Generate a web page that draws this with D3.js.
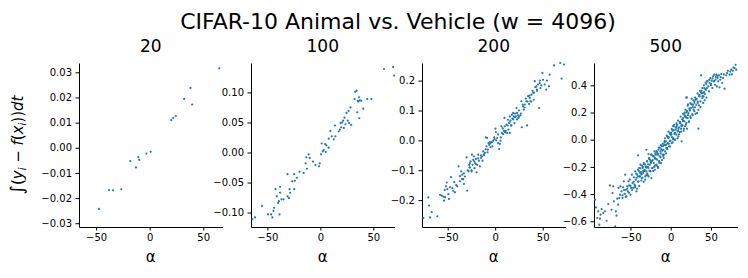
<!DOCTYPE html>
<html>
<head>
<meta charset="utf-8">
<script src="https://cdn.jsdelivr.net/npm/d3@7"></script>
<style>
  body { margin: 0; background: #fff; }
  svg text { font-family: 'DejaVu Sans', sans-serif; fill: #000; }
</style>
</head>
<body>
<svg id="chart" width="748" height="278"></svg>
<script>
let chartTitle = 'CIFAR-10 Animal vs. Vehicle (w = 4096)';
let sizes = ['20', '100', '200', '500'];
let xTicks = [-50, 0, 50];

let yTicks20 = [-0.03, -0.02, -0.01, 0, 0.01, 0.02, 0.03];
let yTicks100 = [-0.10, -0.05, 0, 0.05, 0.10];
let yTicks200 = [-0.2, -0.1, 0, 0.1, 0.2];
let yTicks500 = [-0.6, -0.4, -0.2, 0, 0.2, 0.4];

// alpha, integral of (y_i - f(x_i)) dt
let points20 = [
  [-47.4, -0.0243], [-38.1, -0.0168], [-34.3, -0.0169], [-26.5, -0.0165], [-18.1, -0.0053],
  [-12.8, -0.0078], [-10.6, -0.0037], [-9.7, -0.0048], [-3.1, -0.0023], [0.9, -0.0016],
  [20.1, 0.0110], [21.9, 0.0118], [24.4, 0.0126], [32.2, 0.0194], [38.1, 0.0238],
  [39.7, 0.0172], [65.0, 0.0316]
];

let points100 = [
  [-64.2, -0.111], [-61.7, -0.108], [-55.1, -0.089], [-49.4, -0.103], [-46.5, -0.103],
  [-45.3, -0.108], [-44.3, -0.097], [-43.7, -0.092], [-42.4, -0.061], [-41.1, -0.073],
  [-39.9, -0.084], [-39.2, -0.081], [-38.6, -0.103], [-38.0, -0.057], [-38.0, -0.067],
  [-36.7, -0.078], [-34.8, -0.078], [-31.0, -0.036], [-31.0, -0.073], [-29.7, -0.076],
  [-29.1, -0.061], [-28.5, -0.067], [-26.6, -0.048], [-24.7, -0.036], [-24.7, -0.061],
  [-24.1, -0.047], [-22.2, -0.042], [-19.6, -0.032], [-15.8, -0.034], [-13.9, -0.018],
  [-13.3, -0.008], [-12.7, -0.027], [-11.1, -0.003], [-10.1, -0.009], [-7.0, -0.015],
  [-4.7, -0.021], [-1.3, -0.023], [-0.6, -0.018], [0.6, -0.003], [1.3, 0.015],
  [2.2, 0.002], [3.2, 0.004], [4.4, 0.014], [5.1, 0.001], [5.7, 0.012],
  [7.9, 0.008], [7.9, 0.023], [9.5, 0.036], [10.8, 0.027], [12.7, 0.022],
  [13.9, 0.045], [14.2, 0.027], [17.4, 0.035], [18.4, 0.038], [19.0, 0.049],
  [19.6, 0.042], [20.6, 0.050], [21.5, 0.053], [22.2, 0.041], [22.8, 0.058],
  [23.7, 0.047], [24.7, 0.066], [25.9, 0.053], [26.6, 0.069], [27.2, 0.049],
  [28.5, 0.075], [29.1, 0.046], [32.3, 0.089], [32.9, 0.101], [34.2, 0.103],
  [34.8, 0.067], [35.4, 0.086], [36.1, 0.085], [36.4, 0.092], [36.7, 0.057],
  [37.3, 0.087], [38.6, 0.086], [40.5, 0.073], [44.3, 0.089], [48.1, 0.089],
  [60.1, 0.139], [68.7, 0.142], [69.6, 0.128]
];

let points200 = [
  [-75.5, -0.260], [-70.3, -0.191], [-69.6, -0.218], [-68.5, -0.258], [-66.8, -0.240],
  [-60.8, -0.254], [-58.0, -0.182], [-56.3, -0.185], [-54.5, -0.188], [-53.8, -0.202],
  [-53.1, -0.166], [-52.8, -0.190], [-51.7, -0.154], [-51.0, -0.141], [-50.3, -0.163],
  [-49.3, -0.180], [-48.6, -0.196], [-47.6, -0.157], [-46.5, -0.123], [-44.1, -0.169],
  [-42.3, -0.174], [-39.9, -0.154], [-38.5, -0.087], [-37.1, -0.137], [-35.7, -0.104],
  [-34.6, -0.115], [-33.6, -0.130], [-32.9, -0.146], [-31.8, -0.121], [-30.1, -0.057],
  [-29.4, -0.168], [-28.0, -0.104], [-27.3, -0.082], [-26.6, -0.076], [-26.6, -0.091],
  [-25.9, -0.070], [-24.8, -0.104], [-24.5, -0.048], [-23.8, -0.082], [-23.1, -0.065],
  [-22.4, -0.054], [-21.7, -0.093], [-21.0, -0.076], [-20.3, -0.062], [-19.6, -0.107],
  [-18.9, -0.082], [-17.8, -0.048], [-17.1, -0.068], [-16.1, -0.087], [-15.0, -0.059],
  [-14.0, -0.054], [-13.3, -0.068], [-12.6, -0.037], [-11.9, -0.048], [-10.8, -0.042],
  [-9.8, 0.010], [-9.1, -0.020], [-8.4, 0.008], [-7.7, -0.031], [-7.0, -0.009],
  [-6.3, -0.015], [-5.6, -0.006], [-4.9, -0.023], [-3.5, -0.006], [-2.1, -0.001],
  [-0.7, 0.004], [0.3, 0.039], [0.7, 0.028], [2.1, 0.008], [3.1, -0.009],
  [4.2, -0.029], [4.9, -0.012], [5.6, -0.001], [6.6, 0.047], [7.0, 0.025],
  [8.4, 0.021], [9.1, 0.032], [9.8, 0.075], [10.1, 0.047], [10.5, 0.027],
  [11.2, 0.032], [11.9, 0.053], [12.6, 0.025], [13.3, 0.069], [14.0, 0.036],
  [14.7, 0.058], [15.4, 0.080], [15.4, 0.025], [16.1, 0.066], [16.8, 0.050],
  [17.5, 0.086], [18.2, 0.073], [18.9, 0.092], [19.6, 0.080], [20.3, 0.058],
  [21.0, 0.077], [21.7, 0.080], [22.4, 0.108], [23.1, 0.092], [23.8, 0.084],
  [24.5, 0.075], [25.2, 0.080], [26.6, 0.084], [27.6, 0.131], [28.0, 0.044],
  [29.4, 0.114], [30.1, 0.103], [31.1, 0.120], [32.2, 0.140], [32.9, 0.131],
  [33.6, 0.050], [34.6, 0.148], [35.7, 0.122], [36.4, 0.142], [37.1, 0.131],
  [38.1, 0.153], [39.2, 0.166], [39.9, 0.159], [40.6, 0.136], [41.6, 0.198],
  [42.3, 0.178], [43.4, 0.181], [44.1, 0.166], [45.1, 0.187], [46.2, 0.108],
  [46.9, 0.192], [47.6, 0.175], [48.6, 0.184], [49.7, 0.226], [50.3, 0.203],
  [52.1, 0.187], [53.8, 0.170], [54.5, 0.200], [56.6, 0.181], [57.3, 0.220],
  [61.9, 0.251], [68.5, 0.259], [69.9, 0.207], [72.4, 0.254],
  [-45, -0.16], [-43, -0.14], [-41, -0.15], [-37, -0.12], [-35, -0.13],
  [-33, -0.11], [-29, -0.10], [-27, -0.09], [-25, -0.10], [-22, -0.07],
  [-20, -0.08], [-18, -0.06], [-15, -0.05], [-12, -0.05], [-10, -0.03],
  [-8, -0.04], [-5, -0.01], [-3, -0.02], [-1, 0.01], [1, 0.00],
  [3, 0.02], [6, 0.01], [8, 0.04], [10, 0.03], [13, 0.05],
  [15, 0.06], [17, 0.05], [19, 0.07], [21, 0.09], [23, 0.07],
  [25, 0.10], [27, 0.09], [29, 0.12], [31, 0.11], [34, 0.13],
  [36, 0.15], [38, 0.13], [41, 0.16], [44, 0.17], [47, 0.20]
];

let points500 = [
  [-94.2, -0.441], [-93.0, -0.498], [-91.3, -0.576], [-90.1, -0.527], [-88.8, -0.625],
  [-88.0, -0.581], [-87.2, -0.551], [-86.0, -0.510], [-83.9, -0.539], [-81.8, -0.527],
  [-79.8, -0.596], [-77.7, -0.473], [-75.6, -0.336], [-73.6, -0.515], [-72.3, -0.392],
  [-71.5, -0.343], [-70.7, -0.453], [-69.0, -0.637], [-68.2, -0.527], [-67.4, -0.559],
  [-66.5, -0.434], [-65.3, -0.478], [-64.9, -0.355], [-64.0, -0.429], [-63.2, -0.404],
  [-62.4, -0.343], [-61.2, -0.380], [-59.9, -0.429], [-59.1, -0.350], [-58.3, -0.306],
  [-57.4, -0.399], [-56.6, -0.257], [-55.8, -0.368], [-55.0, -0.417], [-54.1, -0.343],
  [-53.3, -0.380], [-52.5, -0.306], [-51.7, -0.336], [-50.8, -0.294], [-50.0, -0.404],
  [-49.2, -0.355], [-48.3, -0.257], [-47.5, -0.319], [-46.7, -0.355], [-45.9, -0.277],
  [-45.0, -0.331], [-44.2, -0.233], [-43.4, -0.294], [-42.6, -0.380], [-41.7, -0.257],
  [-40.9, -0.221], [-40.5, -0.115], [-40.1, -0.306], [-39.3, -0.208], [-38.4, -0.270],
  [-37.6, -0.184], [-36.8, -0.238], [-36.0, -0.282], [-35.1, -0.208], [-34.3, -0.245],
  [-33.5, -0.172], [-32.6, -0.221], [-31.8, -0.294], [-31.0, -0.196], [-30.2, -0.233],
  [-30.2, -0.074], [-29.3, -0.159], [-28.5, -0.262], [-27.7, -0.208], [-27.7, -0.105],
  [-26.9, -0.135], [-26.0, -0.184], [-25.2, -0.233], [-24.4, -0.110], [-24.0, -0.282],
  [-23.6, -0.159], [-22.7, -0.208], [-21.9, -0.123], [-21.1, -0.172], [-20.2, -0.086],
  [-19.8, -0.221], [-19.4, -0.140], [-18.6, -0.110], [-17.8, -0.184], [-16.9, -0.147],
  [-16.1, -0.110], [-15.7, -0.208], [-15.3, -0.074], [-14.5, -0.159], [-13.6, -0.123],
  [-12.8, -0.086], [-12.0, -0.172], [-11.2, -0.049], [-10.3, -0.110], [-9.5, -0.074],
  [-8.7, -0.135], [-7.9, -0.037], [-7.0, -0.086], [-6.2, -0.012], [-5.4, -0.061],
  [-4.5, 0.025], [-3.7, -0.025], [-2.9, 0.012], [-2.1, -0.049], [-1.2, 0.049],
  [-0.4, -0.007], [0.4, 0.037], [1.2, -0.025], [2.1, 0.066], [2.9, 0.012],
  [3.7, 0.098], [4.5, 0.042], [5.4, 0.000], [6.2, 0.074], [7.0, 0.037],
  [7.9, 0.110], [8.7, 0.061], [9.5, 0.025], [10.3, 0.091], [11.2, 0.056],
  [12.0, 0.123], [12.8, 0.081], [13.6, -0.012], [14.5, 0.105], [15.3, 0.159],
  [16.1, 0.066], [16.9, 0.135], [17.8, 0.098], [18.6, 0.172], [19.4, 0.123],
  [19.8, 0.311], [20.2, 0.081], [21.1, 0.159], [21.9, 0.196], [22.7, 0.135],
  [23.6, 0.213], [24.4, 0.172], [25.2, 0.233], [26.0, 0.301], [26.9, 0.189],
  [27.7, 0.257], [28.5, 0.221], [29.3, 0.282], [30.2, 0.238], [31.0, 0.294],
  [31.8, 0.257], [32.6, 0.196], [33.5, 0.270], [34.3, 0.081], [35.1, 0.252],
  [36.0, 0.319], [36.8, 0.282], [37.6, 0.473], [38.4, 0.360], [39.3, 0.306],
  [40.1, 0.343], [40.9, 0.319], [41.7, 0.380], [42.6, 0.336], [43.4, 0.368],
  [44.2, 0.409], [45.0, 0.380], [45.9, 0.429], [46.7, 0.392], [47.5, 0.355],
  [48.3, 0.417], [49.2, 0.453], [50.0, 0.400], [50.8, 0.434], [51.7, 0.380],
  [52.5, 0.466], [53.3, 0.429], [54.1, 0.478], [55.0, 0.404], [55.8, 0.441],
  [56.6, 0.478], [57.4, 0.392], [58.3, 0.453], [59.1, 0.429], [59.9, 0.473],
  [60.7, 0.385], [61.6, 0.441], [62.8, 0.483], [64.0, 0.417], [64.9, 0.453],
  [66.9, 0.375], [69.0, 0.473], [71.1, 0.507], [73.1, 0.478], [75.2, 0.515],
  [77.3, 0.507], [79.3, 0.527], [80.6, 0.551], [81.4, 0.515],
  [19.4, 0.309], [21.5, 0.260], [17.3, 0.199], [19.4, 0.162], [15.3, 0.137],
  [11.2, 0.125], [13.2, 0.100], [7.0, 0.088], [2.9, 0.100], [9.1, 0.064],
  [5.0, 0.051], [0.8, 0.039], [2.9, 0.002], [-1.2, -0.010], [-3.3, 0.015],
  [-5.4, -0.034], [-7.4, -0.010], [-9.5, -0.047], [-11.6, -0.071], [-13.6, -0.059],
  [-15.7, -0.108], [-17.8, -0.083], [-19.8, -0.132], [-21.9, -0.120], [-24.0, -0.157],
  [-26.0, -0.145], [-28.1, -0.181], [-30.2, -0.206], [-32.2, -0.181], [-34.3, -0.230],
  [-36.4, -0.255], [-38.4, -0.243],
  [-44.3, -0.34], [-42.8, -0.25], [-42.1, -0.36], [-40.6, -0.27], [-39.7, -0.23],
  [-39.2, -0.34], [-37.9, -0.21], [-36.6, -0.30], [-35.8, -0.19], [-35.3, -0.28],
  [-33.7, -0.31], [-33.1, -0.18], [-31.6, -0.27], [-30.8, -0.20], [-29.6, -0.16],
  [-29.2, -0.25], [-27.6, -0.27], [-27.2, -0.14], [-25.7, -0.23], [-25.1, -0.16],
  [-23.8, -0.11], [-23.3, -0.21], [-21.8, -0.23], [-21.2, -0.12], [-19.7, -0.19],
  [-19.1, -0.10], [-17.6, -0.19], [-17.2, -0.09], [-15.9, -0.20], [-14.8, -0.06],
  [-14.2, -0.17], [-12.7, -0.13], [-12.3, -0.04], [-10.9, -0.15], [-9.8, -0.03],
  [-9.3, -0.12], [-7.7, -0.02], [-7.2, 0.01], [-5.8, -0.10], [-4.9, 0.03],
  [-4.2, -0.07], [-2.8, 0.06], [-2.3, -0.03], [-0.8, -0.05], [0.3, 0.05],
  [1.2, 0.08], [2.3, -0.02], [3.2, 0.07], [4.3, 0.11], [4.8, 0.00],
  [6.3, 0.09], [7.1, 0.12], [8.4, 0.01], [9.2, 0.14], [10.3, 0.04],
  [11.2, 0.13], [12.3, 0.17], [12.8, 0.06], [14.2, 0.15], [15.3, 0.19],
  [16.4, 0.08], [17.2, 0.18], [18.3, 0.22], [18.8, 0.11], [20.2, 0.21],
  [21.1, 0.25], [22.4, 0.13], [23.2, 0.23], [24.3, 0.27], [24.8, 0.16],
  [26.2, 0.26], [27.3, 0.18], [28.1, 0.29], [29.4, 0.21], [30.3, 0.31],
  [30.8, 0.19], [32.2, 0.30], [33.3, 0.34], [34.4, 0.22], [35.2, 0.32],
  [36.3, 0.36], [36.8, 0.24], [38.2, 0.34], [39.3, 0.38], [40.4, 0.27],
  [41.2, 0.40], [42.3, 0.29], [43.2, 0.42], [44.4, 0.31], [45.3, 0.43],
  [-44.5, -0.35], [-42.5, -0.28], [-40.5, -0.31], [-38.5, -0.27], [-36.5, -0.25],
  [-34.5, -0.20], [-32.5, -0.23], [-30.5, -0.26], [-28.5, -0.20], [-26.5, -0.23],
  [-24.5, -0.17], [-22.5, -0.15], [-20.5, -0.20], [-18.5, -0.14], [-16.5, -0.10],
  [-14.5, -0.16], [-12.5, -0.10], [-10.5, -0.08], [-8.5, -0.11], [-6.5, -0.04],
  [-4.5, -0.06], [-2.5, 0.02], [-0.5, 0.04], [1.5, 0.02], [3.5, 0.07],
  [5.5, 0.05], [7.5, 0.10], [9.5, 0.08], [11.5, 0.13], [13.5, 0.11],
  [15.5, 0.14], [17.5, 0.17], [19.5, 0.20], [21.5, 0.18], [23.5, 0.22],
  [25.5, 0.26], [27.5, 0.24], [29.5, 0.27], [31.5, 0.30], [33.5, 0.28],
  [35.5, 0.33], [37.5, 0.35], [39.5, 0.32], [41.5, 0.35], [43.5, 0.37],
  [-60, -0.41], [-58, -0.37], [-56, -0.42], [-54, -0.36], [-52, -0.39],
  [-50, -0.34], [-48, -0.37], [-46, -0.31], [48, 0.44], [50, 0.41],
  [52, 0.45], [54, 0.43], [56, 0.46], [58, 0.47], [62, 0.46],
  [66, 0.48], [70, 0.49], [74, 0.50], [76, 0.48], [78, 0.53]
];

let panels = [
  { title: sizes[0], points: points20, yTicks: yTicks20, fmt: '.2f', xDomain: [-66, 68], yDomain: [-0.0315, 0.0337] },
  { title: sizes[1], points: points100, yTicks: yTicks100, fmt: '.2f', xDomain: [-65.5, 70], yDomain: [-0.124, 0.149] },
  { title: sizes[2], points: points200, yTicks: yTicks200, fmt: '.1f', xDomain: [-77, 74], yDomain: [-0.290, 0.259] },
  { title: sizes[3], points: points500, yTicks: yTicks500, fmt: '.1f', xDomain: [-95.4, 83], yDomain: [-0.642, 0.564] }
];

let panelLeft = [79, 251, 422, 594];
let panelWidth = 143.5;
let plotTop = 63;
let plotBottom = 227;

let svg = d3.select('#chart');

svg.append('text')
  .text(chartTitle)
  .attr('x', 398)
  .attr('y', 29)
  .attr('text-anchor', 'middle')
  .style('font-size', '22px');

for (let i = 0; i < panels.length; i++) {
  let p = panels[i];
  let left = panelLeft[i];

  let x = d3.scaleLinear().domain(p.xDomain).range([left, left + panelWidth]);
  let y = d3.scaleLinear().domain(p.yDomain).range([plotBottom, plotTop]);

  let g = svg.append('g');

  g.append('g')
    .attr('transform', `translate(0,${plotBottom})`)
    .call(d3.axisBottom(x).tickValues(xTicks).tickSize(3.5).tickPadding(3.5).tickSizeOuter(0))
    .call((a) => a.selectAll('text').style('font-size', '10px').attr('font-family', null))
    .call((a) => a.selectAll('line, path').attr('stroke', '#000').attr('stroke-width', 1));

  g.append('g')
    .attr('transform', `translate(${left},0)`)
    .call(d3.axisLeft(y).tickValues(p.yTicks).tickFormat(d3.format(p.fmt)).tickSize(3.5).tickPadding(3.5).tickSizeOuter(0))
    .call((a) => a.selectAll('text').style('font-size', '10px').attr('font-family', null))
    .call((a) => a.selectAll('line, path').attr('stroke', '#000').attr('stroke-width', 1));

  g.selectAll('.dot')
    .data(p.points)
    .enter()
    .append('circle')
    .attr('class', 'dot')
    .attr('cx', (d) => x(d[0]))
    .attr('cy', (d) => y(d[1]))
    .attr('r', 1.1)
    .attr('fill', '#1f77b4');

  g.append('text')
    .text(p.title)
    .attr('x', left + panelWidth / 2)
    .attr('y', 52)
    .attr('text-anchor', 'middle')
    .style('font-size', '17px');

  g.append('text')
    .text('α')
    .attr('x', left + panelWidth / 2)
    .attr('y', 262)
    .attr('text-anchor', 'middle')
    .style('font-size', '15px');
}

// y label: ∫(y_i − f(x_i))dt
let yl = svg.append('text')
  .attr('transform', 'translate(23,145) rotate(-90)')
  .attr('text-anchor', 'middle')
  .style('font-size', '15px');

yl.append('tspan').text('∫').style('font-size', '18px');
yl.append('tspan').text('(');
yl.append('tspan').text('y').style('font-style', 'italic');
yl.append('tspan').text('i').style('font-style', 'italic').style('font-size', '10px').attr('dy', 3);
yl.append('tspan').text(' − ').attr('dy', -3);
yl.append('tspan').text('f').style('font-style', 'italic');
yl.append('tspan').text('(');
yl.append('tspan').text('x').style('font-style', 'italic');
yl.append('tspan').text('i').style('font-style', 'italic').style('font-size', '10px').attr('dy', 3);
yl.append('tspan').text('))').attr('dy', -3);
yl.append('tspan').text('dt').style('font-style', 'italic');
</script>
</body>
</html>
